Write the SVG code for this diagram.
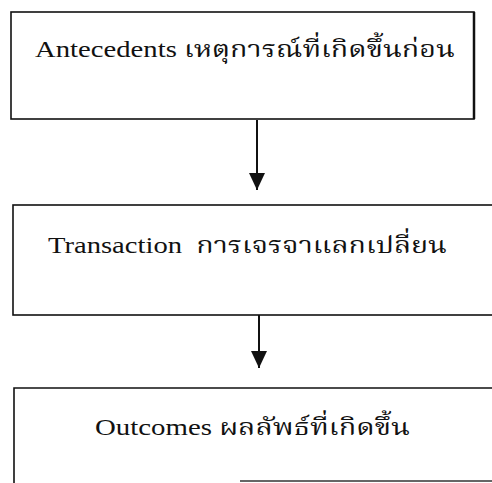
<svg xmlns="http://www.w3.org/2000/svg" width="492" height="483" viewBox="0 0 492 483">
<style>
.box{fill:#fff;stroke:#111;stroke-width:1.6}
.lbl{font-family:"Liberation Serif","Noto Serif Thai","Noto Sans Thai","DejaVu Sans",serif;font-size:23.5px;fill:#111}
.conn{stroke:#111;stroke-width:2;fill:none}
</style>
<defs>
<marker id="ah" markerWidth="16" markerHeight="17" refX="17" refY="8" orient="auto" markerUnits="userSpaceOnUse">
<path d="M0,0 L17,8 L0,16 Z" fill="#111"/>
</marker>
</defs>
<rect width="492" height="483" fill="#fff"/>
<g id="connectors">
<line class="conn" x1="257" y1="120" x2="257" y2="190" marker-end="url(#ah)"/>
<line class="conn" x1="259" y1="315" x2="259" y2="368" marker-end="url(#ah)"/>
</g>
<g id="antecedents">
<rect class="box" x="11" y="12" width="463" height="107"/>
<path d="M474,12 V119" stroke="#111" stroke-width="2.5"/>
<text class="lbl" x="35" y="57" textLength="420" lengthAdjust="spacingAndGlyphs">Antecedents เหตุการณ์ที่เกิดขึ้นก่อน</text>
</g>
<g id="transaction">
<rect class="box" x="13" y="205" width="490" height="110"/>
<text class="lbl" x="48" y="253" textLength="399" lengthAdjust="spacingAndGlyphs" xml:space="preserve">Transaction  การเจรจาแลกเปลี่ยน</text>
</g>
<g id="outcomes">
<path d="M14,483 V388 H492" class="box" fill="none"/>
<path d="M240,481 H492" stroke="#333" stroke-width="1.4"/>
<text class="lbl" x="95" y="435" textLength="315" lengthAdjust="spacingAndGlyphs">Outcomes ผลลัพธ์ที่เกิดขึ้น</text>
</g>
</svg>
